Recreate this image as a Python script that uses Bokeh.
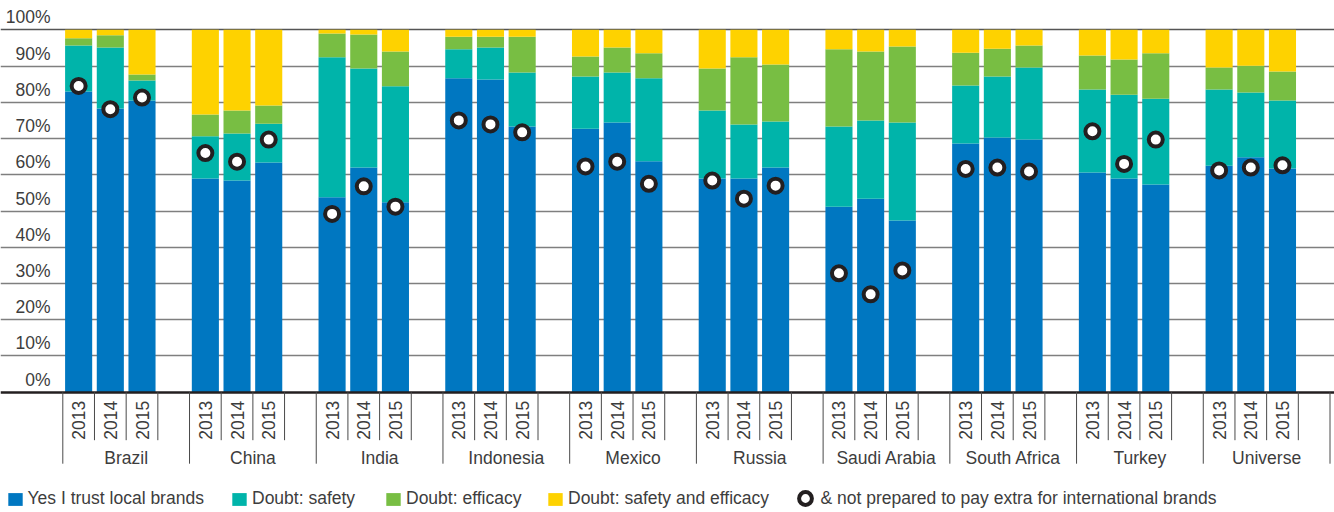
import math
from bokeh.plotting import figure
from bokeh.models import ColumnDataSource, Range1d, Legend, LegendItem
from bokeh.core.properties import value
from bokeh.embed import file_html
from bokeh.resources import INLINE

# ---------------- data ----------------
countries = ["Brazil", "China", "India", "Indonesia", "Mexico", "Russia",
             "Saudi Arabia", "South Africa", "Turkey", "Universe"]
years = ["2013", "2014", "2015"]

trust = [83.0, 78.3, 80.5,
         59.0, 58.4, 63.4,
         53.8, 62.0, 52.4,
         86.6, 86.3, 73.3,
         72.7, 74.4, 63.7,
         59.0, 59.0, 62.0,
         51.2, 53.4, 47.4,
         68.6, 70.3, 69.7,
         60.6, 59.0, 57.3,
         62.5, 64.8, 61.7]
doubt_safety = [12.7, 16.8, 5.5,
                11.6, 13.0, 10.7,
                38.6, 27.3, 32.0,
                8.0, 8.8, 14.9,
                14.4, 13.8, 22.9,
                18.7, 14.9, 12.7,
                22.1, 21.6, 27.0,
                16.0, 16.8, 19.9,
                22.9, 23.1, 23.7,
                21.0, 17.9, 18.8]
doubt_efficacy = [2.0, 3.4, 1.7,
                  6.0, 6.3, 5.0,
                  6.6, 9.4, 9.6,
                  3.5, 3.0, 9.9,
                  5.5, 6.9, 6.9,
                  11.6, 18.5, 15.7,
                  21.3, 19.0, 21.0,
                  9.1, 7.7, 6.1,
                  9.4, 9.7, 12.5,
                  6.1, 7.4, 8.0]
doubt_both = [2.3, 1.5, 12.3,
              23.4, 22.3, 20.9,
              1.0, 1.3, 6.0,
              1.9, 1.9, 1.9,
              7.4, 4.9, 6.5,
              10.7, 7.6, 9.6,
              5.4, 6.0, 4.6,
              6.3, 5.2, 4.3,
              7.1, 8.2, 6.5,
              10.4, 9.9, 11.5]
not_pay_extra = [84.5, 78.1, 81.3,
                 66.0, 63.6, 69.7,
                 49.2, 56.8, 51.2,
                 75.0, 73.9, 71.7,
                 62.3, 63.6, 57.5,
                 58.4, 53.4, 57.0,
                 32.8, 27.0, 33.6,
                 61.6, 62.0, 60.9,
                 72.0, 63.0, 69.7,
                 61.2, 62.0, 62.6]
y_ticks = [0, 10, 20, 30, 40, 50, 60, 70, 80, 90, 100]
y_tick_labels = [f"{t}%" for t in y_ticks]

series_labels = ["Yes I trust local brands", "Doubt: safety", "Doubt: efficacy",
                 "Doubt: safety and efficacy"]
circle_label = "& not prepared to pay extra for international brands"
colors = ["#0077c1", "#00b4aa", "#78be43", "#fed200"]

# ---------------- layout helpers ----------------
SLOTS_PER_GROUP = len(years) + 1          # 3 bars + one empty slot
n_groups = len(countries)
xs = [g * SLOTS_PER_GROUP + k + 0.5 for g in range(n_groups) for k in range(len(years))]
year_txt = [years[k] for g in range(n_groups) for k in range(len(years))]

W, H = 1334, 512
PX_PER_SLOT = 31.68
PX_PER_PCT = 3.624
x0 = -62.3 / PX_PER_SLOT
y1 = 100 + 29.3 / PX_PER_PCT

src = ColumnDataSource(dict(x=xs, trust=trust, safety=doubt_safety,
                            efficacy=doubt_efficacy, both=doubt_both,
                            circ=not_pay_extra, year=year_txt))

p = figure(width=W, height=H, output_backend="svg", toolbar_location=None,
           x_range=Range1d(x0, x0 + W / PX_PER_SLOT),
           y_range=Range1d(y1 - H / PX_PER_PCT, y1),
           x_axis_type=None, y_axis_type=None,
           min_border=0, min_border_left=0, min_border_right=0,
           min_border_top=0, min_border_bottom=0)
p.outline_line_color = None
p.background_fill_color = "white"

FONT = "Liberation Sans"
TXT = "#3d3d3d"
FS = "17.5px"

# grid lines
p.hspan(y=y_ticks[1:-1], line_color="#7f7f7f", line_width=1.4)
p.hspan(y=[y_ticks[-1]], line_color="#555555", line_width=1.6)

# stacked bars
bars = p.vbar_stack(["trust", "safety", "efficacy", "both"], x="x", width=0.855,
                    fill_color=colors, line_color=None, source=src)

# baseline
p.hspan(y=[y_ticks[0]], line_color="#231f20", line_width=2.4)

# circle markers
circ = p.scatter(x="x", y="circ", size=14, line_width=4, line_color="#231f20",
                 fill_color="white", source=src)

# y tick labels (inside plot, above each gridline)
ylab_x = -12.3 / PX_PER_SLOT
p.text(x=[ylab_x] * len(y_ticks), y=y_ticks, text=y_tick_labels,
       text_font=value(FONT), text_font_size=FS, text_color=TXT,
       text_align="right", text_baseline="bottom", y_offset=-2.5)

# x ticks: short at slot boundaries, long at group boundaries
short_len = 48 / PX_PER_PCT
long_len = 71.5 / PX_PER_PCT
bx, by = [], []
for g in range(n_groups + 1):
    for k in range(SLOTS_PER_GROUP if g < n_groups else 1):
        pos = g * SLOTS_PER_GROUP + k
        bx.append(pos)
        by.append(-long_len if k == 0 else -short_len)
p.segment(x0=bx, y0=[0] * len(bx), x1=bx, y1=by, line_color="#4a4a4a", line_width=1)

# year labels (vertical)
p.text(x="x", y=0, text="year", source=src, angle=math.pi / 2,
       text_font=value(FONT), text_font_size=FS, text_color=TXT,
       text_align="right", text_baseline="middle", y_offset=8.5)

# country labels
cx = [g * SLOTS_PER_GROUP + SLOTS_PER_GROUP / 2 for g in range(n_groups)]
p.text(x=cx, y=[0] * n_groups, text=countries,
       text_font=value(FONT), text_font_size=FS, text_color=TXT,
       text_align="center", text_baseline="middle", y_offset=66)

# legends
def make_legend(label, rend, xloc, yloc, gw, gh, standoff):
    lg = Legend(items=[LegendItem(label=label, renderers=[rend])],
                location=(xloc, yloc), orientation="horizontal",
                glyph_width=gw, glyph_height=gh, label_standoff=standoff,
                label_text_font=FONT, label_text_font_size=FS,
                label_text_color=TXT, border_line_color=None,
                background_fill_alpha=0, padding=0, margin=0, spacing=0,
                label_height=gh)
    p.add_layout(lg, "center")

sq_x = [5.5, 230, 384, 546]
for lbl, r, sx in zip(series_labels, bars, sq_x):
    make_legend(lbl, r, sx, 3, 18, 16, 4)
make_legend(circle_label, circ, 788.5, -2, 32, 32, 0)

open("out.html", "w").write(file_html(p, INLINE))
